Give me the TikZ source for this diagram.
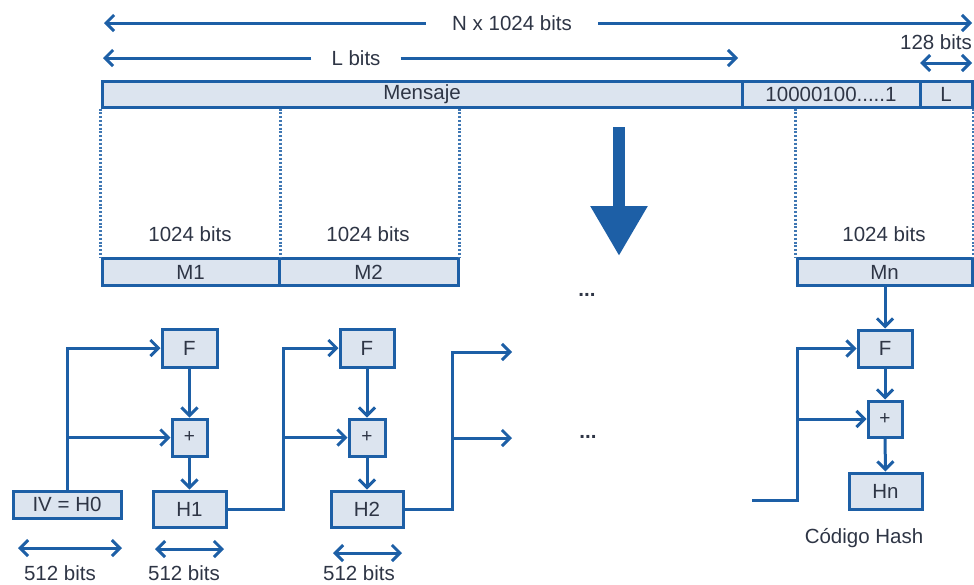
\documentclass[tikz,border=0pt]{standalone}
\usepackage{fontspec}
\setmainfont{Liberation Sans}
\usetikzlibrary{arrows.meta}
\definecolor{lc}{HTML}{1D5FA6}
\definecolor{bf}{HTML}{DCE4EF}
\definecolor{tc}{HTML}{2E3545}
\begin{document}
\begin{tikzpicture}[x=1pt,y=-1pt,
  font=\fontsize{20.5}{24}\selectfont, text=tc,
  box/.style={draw=lc, line width=3pt, fill=bf, inner sep=0pt},
  plusbox/.style={box, font=\fontsize{19}{22}\selectfont},
  lbl/.style={inner sep=0pt},
  ln/.style={draw=lc, line width=3pt},
  arr/.style={draw=lc, line width=3pt, -{Straight Barb[length=8pt,width=16pt]}},
  darr/.style={draw=lc, line width=3pt, {Straight Barb[length=8pt,width=16pt]}-{Straight Barb[length=8pt,width=16pt]}},
  dots/.style={draw=lc!85, line width=2.5pt, dash pattern=on 2pt off 1.8pt},
  ell/.style={inner sep=0pt, font=\fontsize{20.5}{24}\selectfont\bfseries}
]
\useasboundingbox (0,0) rectangle (974,584);

% top dimension arrows
\node[lbl, inner xsep=26pt] (ntext) at (512,23) {N x 1024 bits};
\coordinate (nL) at (104,23);
\coordinate (nR) at (972,23);
\draw[arr] (ntext.west) -- (nL);
\draw[arr] (ntext.east) -- (nR);

\node[lbl, inner xsep=20pt] (ltext) at (356,58) {L bits};
\coordinate (lL) at (103,58);
\coordinate (lR) at (738,58);
\draw[arr] (ltext.west) -- (lL);
\draw[arr] (ltext.east) -- (lR);

\node[lbl] (t128) at (936,42) {128 bits};
\coordinate (bL) at (920,63);
\coordinate (bR) at (972,63);
\draw[darr] (bL) -- (bR);

% message bar
\node[box, minimum width=640pt, minimum height=26pt] (msg) at (422,94) {Mensaje};
\node[box, minimum width=178pt, minimum height=26pt] (pad) at (831,94) {10000100.....1};
\node[box, minimum width=52pt, minimum height=26pt] (len) at (946,94) {L};

% blocks
\node[box, minimum width=177pt, minimum height=27pt] (M1) at (190.5,272) {M1};
\node[box, minimum width=179pt, minimum height=27pt] (M2) at (368.5,272) {M2};
\node[box, minimum width=175pt, minimum height=27pt] (Mn) at (884.5,272) {Mn};

\node[lbl] (s1) at (190,234) {1024 bits};
\node[lbl] (s2) at (368,234) {1024 bits};
\node[lbl] (s3) at (884,234) {1024 bits};

% dotted guides
\draw[dots] (msg.south west) -- (M1.north west);
\draw[dots] (msg.south west -| M1.north east) -- (M1.north east);
\draw[dots] (msg.south west -| M2.north east) -- (M2.north east);
\draw[dots] (pad.south west -| Mn.north west) -- (Mn.north west);
\draw[dots] (len.south east) -- (Mn.north east);

% big arrow
\coordinate (bigA) at (619,127);
\coordinate (bigB) at (619,256);
\draw[draw=lc, line width=12pt, -{Triangle[length=50pt,width=54pt]}] (bigA) -- (bigB);

\node[ell] (dotsA) at (587,295) {...};
\node[ell] (dotsB) at (588,437) {...};

% chain 1
\node[box, minimum width=108pt, minimum height=27pt] (IV) at (67,504.5) {IV = H0};
\node[box, minimum width=55pt, minimum height=38pt] (F1) at (189.5,348) {F};
\node[plusbox, minimum width=35pt, minimum height=37pt] (P1) at (189.5,437.5) {+};
\node[box, minimum width=73pt, minimum height=36pt] (H1) at (189.5,509) {H1};

\draw[arr] (IV.north) |- (F1.west);
\draw[arr] (IV.north |- P1.west) -- (P1.west);
\draw[arr] (F1.south) -- (P1.north);
\draw[arr] (P1.south) -- (H1.north);

% chain 2
\node[box, minimum width=54pt, minimum height=38pt] (F2) at (367,348) {F};
\node[plusbox, minimum width=36pt, minimum height=37pt] (P2) at (367,437.5) {+};
\node[box, minimum width=72pt, minimum height=36pt] (H2) at (367,509) {H2};

\coordinate (j1) at (283,509);
\draw[arr] (H1.east) -- (j1) |- (F2.west);
\draw[arr] (j1 |- P2.west) -- (P2.west);
\draw[arr] (F2.south) -- (P2.north);
\draw[arr] (P2.south) -- (H2.north);

% chain 2 outputs
\coordinate (j2) at (452,509);
\coordinate (o1) at (512,352);
\coordinate (o2) at (512,438);
\draw[arr] (H2.east) -- (j2) |- (o1);
\draw[arr] (j2 |- o2) -- (o2);

% final chain
\node[box, minimum width=54pt, minimum height=37pt] (F3) at (885,348.5) {F};
\node[plusbox, minimum width=34pt, minimum height=36pt] (P3) at (885,419) {+};
\node[box, minimum width=73pt, minimum height=36pt] (Hn) at (885.5,491) {Hn};
\node[lbl] (hash) at (864,538) {Código Hash};

\coordinate (in3) at (752,500);
\coordinate (j3) at (797,500);
\draw[arr] (in3) -- (j3) |- (F3.west);
\draw[arr] (j3 |- P3.west) -- (P3.west);
\draw[arr] (Mn.south -| F3.north) -- (F3.north);
\draw[arr] (F3.south) -- (P3.north);
\draw[arr] (P3.south) -- (Hn.north);

% 512-bit arrows
\coordinate (a1L) at (18,548);  \coordinate (a1R) at (122,548);
\coordinate (a2L) at (155,549); \coordinate (a2R) at (224,549);
\coordinate (a3L) at (333,553); \coordinate (a3R) at (402,553);
\draw[darr] (a1L) -- (a1R);
\draw[darr] (a2L) -- (a2R);
\draw[darr] (a3L) -- (a3R);
\node[lbl] (b1) at (60,573.5) {512 bits};
\node[lbl] (b2) at (184,573.5) {512 bits};
\node[lbl] (b3) at (359,573.5) {512 bits};
\end{tikzpicture}
\end{document}
